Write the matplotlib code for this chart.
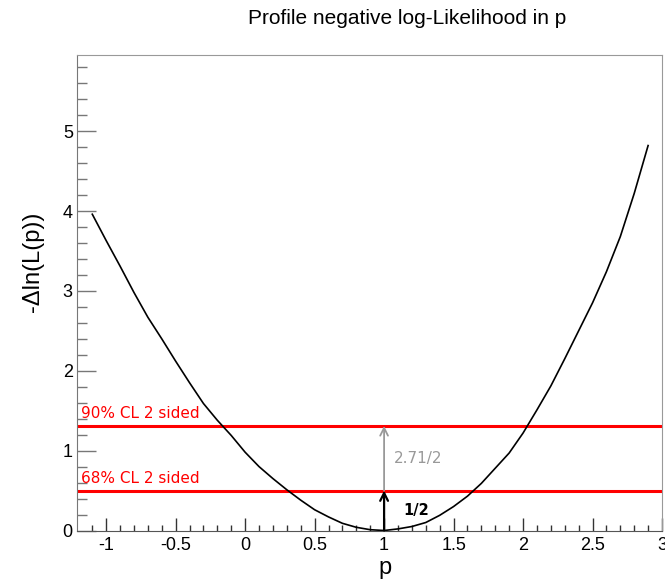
'''
Profile negative log-likelihood in p, with the 68% and 90% CL lines
'''
import numpy as np
from matplotlib import pyplot as plt

# values
p_vals = [-1.1, -1.0, -0.9, -0.8, -0.7, -0.6, -0.5, -0.4, -0.3, -0.2, -0.1,
          0.0, 0.1, 0.2, 0.3, 0.4, 0.5, 0.6, 0.7, 0.8, 0.9,
          1.0, 1.1, 1.2, 1.3, 1.4, 1.5, 1.6, 1.7, 1.8, 1.9,
          2.0, 2.1, 2.2, 2.3, 2.4, 2.5, 2.6, 2.7, 2.8, 2.9]
nll_vals = [3.96, 3.63, 3.31, 2.98, 2.67, 2.40, 2.12, 1.85, 1.59, 1.38, 1.19,
            0.98, 0.80, 0.65, 0.51, 0.38, 0.26, 0.17, 0.09, 0.04, 0.01,
            0.00, 0.02, 0.05, 0.10, 0.19, 0.30, 0.43, 0.59, 0.78, 0.97,
            1.22, 1.51, 1.81, 2.15, 2.50, 2.85, 3.24, 3.68, 4.22, 4.82]
cl_levels = [0.5, 1.31]
cl_labels = ['68% CL 2 sided', '90% CL 2 sided']
p_best = 1.0

plt.rcParams['font.family'] = ['Liberation Sans', 'DejaVu Sans']

fig = plt.figure(figsize=(6.65, 5.85), dpi=100)
ax = fig.add_axes([77 / 665, 54.5 / 585, 585 / 665, 476 / 585])

ax.plot(p_vals, nll_vals, color='black', lw=1.2, zorder=3)

for level, label in zip(cl_levels, cl_labels):
    ax.axhline(level, color='#ff0000', lw=2.2, zorder=2)
    ax.text(-1.18, level + 0.10, label, color='#ff0000', fontsize=11,
            family='DejaVu Sans', ha='left', va='baseline')

# arrows for the two intervals
ax.annotate('', xy=(p_best, cl_levels[0]), xytext=(p_best, 0),
            arrowprops=dict(arrowstyle='->', color='black', lw=1.6,
                            shrinkA=0, shrinkB=0, mutation_scale=14), zorder=4)
ax.annotate('', xy=(p_best, cl_levels[1]), xytext=(p_best, cl_levels[0]),
            arrowprops=dict(arrowstyle='->', color='#999999', lw=1.3,
                            shrinkA=0, shrinkB=0, mutation_scale=14), zorder=4)
ax.text(p_best + 0.135, 0.19, '1/2', fontsize=10.5, family='DejaVu Sans',
        fontweight='bold', color='black', ha='left', va='baseline')
ax.text(p_best + 0.067, 0.84, '2.71/2', fontsize=11, family='DejaVu Sans',
        color='#999999', ha='left', va='baseline')

ax.set_xlim(-1.21, 3.0)
ax.set_ylim(0, 5.96)
ax.set_xticks(np.arange(-1, 3.01, 0.5))
ax.set_xticklabels(['-1', '-0.5', '0', '0.5', '1', '1.5', '2', '2.5', '3'])
ax.set_xticks(np.arange(-1.1, 3.0, 0.1), minor=True)
ax.set_yticks(np.arange(0, 6, 1))
ax.set_yticks(np.arange(0, 5.9, 0.2), minor=True)

ax.tick_params(axis='x', which='major', direction='in', length=9.5, width=1,
               color='#333333', labelsize=13, pad=5)
ax.tick_params(axis='x', which='minor', direction='in', length=4.5, width=1,
               color='#333333')
ax.tick_params(axis='y', which='major', direction='in', length=14, width=1,
               color='#777777', labelsize=13, pad=3)
ax.tick_params(axis='y', which='minor', direction='in', length=7, width=1,
               color='#777777')
for side in ['top', 'right']:
    ax.spines[side].set_color('#999999')
ax.spines['left'].set_color('#777777')
ax.spines['bottom'].set_color('#555555')

fig.text(407 / 665, 1 - 18 / 585, 'Profile negative log-Likelihood in p',
         fontsize=15, ha='center', va='center')
fig.text(33 / 665, 1 - 262 / 585, '-\u0394ln(L(p))', fontsize=17,
         rotation=90, ha='center', va='center')
fig.text(385 / 665, 1 - 568 / 585, 'p', fontsize=17, ha='center', va='center')

fig.savefig('out.png', dpi=100)
